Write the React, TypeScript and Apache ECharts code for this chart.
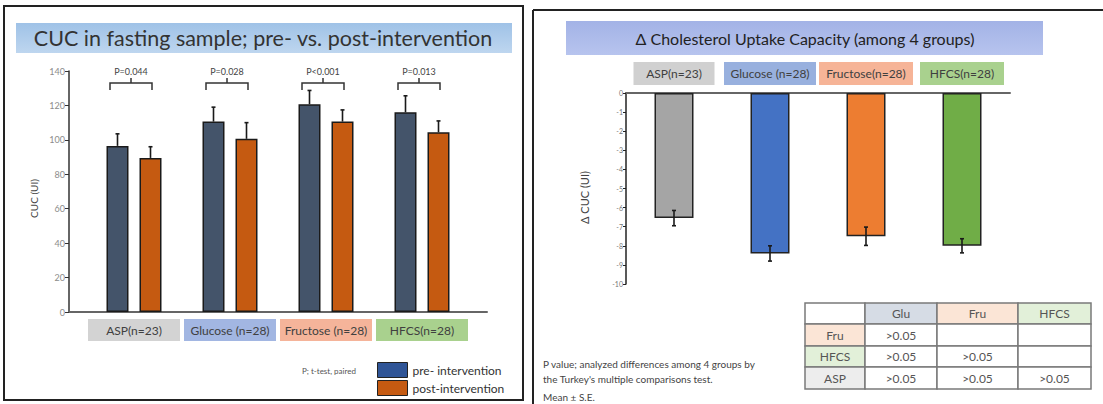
import React, { useEffect, useRef } from "react";
import * as echarts from "echarts";

// ---------- data: left chart ----------
const groups = ["ASP(n=23)", "Glucose (n=28)", "Fructose (n=28)", "HFCS(n=28)"];
const preValues = [96.5, 110.6, 120.7, 116.0];
const preErrors = [7.0, 8.4, 8.0, 9.6];
const postValues = [89.5, 100.6, 110.6, 104.4];
const postErrors = [6.5, 9.4, 6.8, 6.6];
const pLabels = ["P=0.044", "P=0.028", "P<0.001", "P=0.013"];
const bracketLevel = 133;
const seriesNames = ["pre- intervention", "post-intervention"];

// ---------- data: right chart ----------
const deltaGroups = ["ASP(n=23)", "Glucose (n=28)", "Fructose(n=28)", "HFCS(n=28)"];
const deltaValues = [-6.55, -8.4, -7.5, -8.0];
const deltaErrors = [0.4, 0.4, 0.48, 0.37];

// ---------- data: comparison table ----------
const tableHeader = ["", "Glu", "Fru", "HFCS"];
const tableRowNames = ["Fru", "HFCS", "ASP"];
const tableCells = [
  [">0.05", "", ""],
  [">0.05", ">0.05", ""],
  [">0.05", ">0.05", ">0.05"],
];

// ---------- styles ----------
const FONT = "Lato, 'Noto Sans', sans-serif";
const leftBoxColors = ["#d3d3d3", "#a2b6e2", "#f5b49a", "#a9d18e"];
const rightBoxColors = ["#d0d0d0", "#98b0de", "#f6b497", "#a9d18e"];
const rightBoxWidths = [81, 92, 94, 84];
const deltaColors = ["#a5a5a5", "#4472c4", "#ed7d31", "#70ad47"];
const legendColors = ["#2f5597", "#c55a11"];
const headerColors: Record<string, string> = {
  Glu: "#d6dce5",
  Fru: "#fbe5d6",
  HFCS: "#e2f0d9",
  ASP: "#ededed",
};
const colX = [805, 865, 937, 1018, 1091];
const rowY = [303, 324, 346, 367, 389];

function buildTable() {
  const els: any[] = [];
  for (let c = 0; c < 4; c++) {
    const name = tableHeader[c];
    els.push({
      type: "rect",
      shape: { x: colX[c], y: rowY[0], width: colX[c + 1] - colX[c], height: rowY[1] - rowY[0] },
      style: { fill: headerColors[name] || "#ffffff", stroke: "#7a7a7a", lineWidth: 1.5 },
    });
    if (name)
      els.push({
        type: "text",
        style: {
          text: name,
          x: (colX[c] + colX[c + 1]) / 2,
          y: (rowY[0] + rowY[1]) / 2,
          align: "center",
          verticalAlign: "middle",
          fontSize: 12,
          fill: "#555",
          fontFamily: FONT,
        },
      });
  }
  for (let r = 0; r < 3; r++) {
    const y0 = rowY[r + 1];
    const y1 = rowY[r + 2];
    for (let c = 0; c < 4; c++) {
      const txt = c === 0 ? tableRowNames[r] : tableCells[r][c - 1];
      els.push({
        type: "rect",
        shape: { x: colX[c], y: y0, width: colX[c + 1] - colX[c], height: y1 - y0 },
        style: {
          fill: c === 0 ? headerColors[tableRowNames[r]] : "#ffffff",
          stroke: "#7a7a7a",
          lineWidth: 1.5,
        },
      });
      if (txt)
        els.push({
          type: "text",
          style: {
            text: txt,
            x: (colX[c] + colX[c + 1]) / 2,
            y: (y0 + y1) / 2,
            align: "center",
            verticalAlign: "middle",
            fontSize: 12,
            fill: "#555",
            fontFamily: FONT,
          },
        });
    }
  }
  return els;
}

function errorSeries(values: number[], errors: number[], axisIndex: number, offset: number, twoSided: boolean) {
  return {
    type: "custom",
    xAxisIndex: axisIndex,
    yAxisIndex: axisIndex,
    z: 5,
    silent: true,
    data: values.map((v, i) => [i, twoSided ? v - errors[i] : v, v + errors[i]]),
    renderItem: (params: any, api: any) => {
      const p0 = api.coord([api.value(0), api.value(1)]);
      const p1 = api.coord([api.value(0), api.value(2)]);
      const x = p0[0] + offset;
      const st = { stroke: "#1a1a1a", lineWidth: 1.6 };
      const children: any[] = [
        { type: "line", shape: { x1: x, y1: p0[1], x2: x, y2: p1[1] }, style: st },
        { type: "line", shape: { x1: x - 2, y1: p1[1], x2: x + 2, y2: p1[1] }, style: st },
      ];
      if (twoSided)
        children.push({ type: "line", shape: { x1: x - 2, y1: p0[1], x2: x + 2, y2: p0[1] }, style: st });
      return { type: "group", children };
    },
  };
}

function legendFor(i: number, top: number) {
  return {
    orient: "vertical",
    left: 377,
    top,
    padding: 0,
    itemWidth: 30,
    itemHeight: 15,
    itemGap: 5,
    itemStyle: { borderColor: "#222", borderWidth: 1 },
    selectedMode: false,
    textStyle: { fontSize: 12, color: "#333", fontFamily: FONT },
    data: [{ name: seriesNames[i], icon: "rect", itemStyle: { color: legendColors[i] } }],
  };
}

export default function App() {
  const ref = useRef<HTMLDivElement>(null);
  useEffect(() => {
    document.body.style.margin = "0";
    if (!ref.current) return;
    const chart = echarts.init(ref.current, undefined, { renderer: "svg" });

    const leftRich: any = {};
    groups.forEach((g, i) => {
      leftRich["c" + i] = {
        backgroundColor: leftBoxColors[i],
        width: 92,
        height: 22,
        lineHeight: 22,
        align: "center",
        fontSize: 12,
        color: "#404040",
        fontFamily: FONT,
      };
    });
    const rightRich: any = {};
    deltaGroups.forEach((g, i) => {
      rightRich["c" + i] = {
        backgroundColor: rightBoxColors[i],
        width: rightBoxWidths[i],
        height: 23,
        lineHeight: 23,
        align: "center",
        fontSize: 12,
        color: "#404040",
        fontFamily: FONT,
      };
    });

    const option: any = {
      animation: false,
      textStyle: { fontFamily: FONT },
      grid: [
        { left: 69, top: 71, width: 418, height: 241 },
        { left: 86, top: 71, width: 384, height: 241 },
        { left: 626, top: 93, width: 384, height: 191 },
      ],
      xAxis: [
        {
          gridIndex: 0,
          type: "value",
          min: 0,
          max: 1,
          axisLine: { show: true, onZero: false, lineStyle: { color: "#666", width: 2 } },
          axisTick: { show: false },
          axisLabel: { show: false },
          splitLine: { show: false },
        },
        {
          gridIndex: 1,
          type: "category",
          data: groups,
          axisLine: { show: false },
          axisTick: { show: false },
          axisLabel: {
            interval: 0,
            margin: 7,
            formatter: (v: string, i: number) => `{c${i}|${v}}`,
            rich: leftRich,
          },
        },
        {
          gridIndex: 2,
          type: "category",
          position: "top",
          data: deltaGroups,
          axisLine: { show: true, onZero: false, lineStyle: { color: "#666", width: 2 } },
          axisTick: { show: false },
          axisLabel: {
            interval: 0,
            margin: 8,
            formatter: (v: string, i: number) => `{c${i}|${v}}`,
            rich: rightRich,
          },
        },
      ],
      yAxis: [
        {
          gridIndex: 0,
          type: "value",
          min: 0,
          max: 140,
          interval: 20,
          name: "CUC (UI)",
          nameLocation: "middle",
          nameGap: 30,
          nameTextStyle: { fontSize: 10, color: "#444", padding: [0, 14, 0, 0] },
          axisLine: { show: true, lineStyle: { color: "#333", width: 1.5 } },
          axisTick: { show: true, length: 4, lineStyle: { color: "#333" } },
          axisLabel: { fontSize: 9, color: "#8c8c8c", margin: 4 },
          splitLine: { show: false },
        },
        {
          gridIndex: 1,
          type: "value",
          min: 0,
          max: 140,
          show: false,
          splitLine: { show: false },
        },
        {
          gridIndex: 2,
          type: "value",
          min: -10,
          max: 0,
          interval: 1,
          name: "Δ CUC (UI)",
          nameLocation: "middle",
          nameGap: 36,
          nameTextStyle: { fontSize: 11, color: "#444", padding: [0, 18, 0, 0] },
          axisLine: { show: true, lineStyle: { color: "#222", width: 1.5 } },
          axisTick: { show: true, length: 3, lineStyle: { color: "#222" } },
          axisLabel: { fontSize: 7, color: "#777", margin: 3 },
          splitLine: { show: false },
        },
      ],
      legend: [legendFor(0, 362), legendFor(1, 380)],
      series: [
        {
          name: seriesNames[0],
          type: "bar",
          xAxisIndex: 1,
          yAxisIndex: 1,
          data: preValues,
          barWidth: 22,
          barGap: "50%",
          itemStyle: { color: "#44546a", borderColor: "#1a1a1a", borderWidth: 1.5 },
        },
        {
          name: seriesNames[1],
          type: "bar",
          xAxisIndex: 1,
          yAxisIndex: 1,
          data: postValues,
          barWidth: 22,
          barGap: "50%",
          itemStyle: { color: "#c55a11", borderColor: "#1a1a1a", borderWidth: 1.5 },
        },
        errorSeries(preValues, preErrors, 1, -16.5, false),
        errorSeries(postValues, postErrors, 1, 16.5, false),
        {
          type: "custom",
          xAxisIndex: 1,
          yAxisIndex: 1,
          silent: true,
          data: pLabels.map((p, i) => [i, bracketLevel]),
          renderItem: (params: any, api: any) => {
            const c = api.coord([api.value(0), api.value(1)]);
            const cx = c[0] - 3;
            const y = c[1];
            const half = 21;
            return {
              type: "group",
              children: [
                {
                  type: "polyline",
                  shape: { points: [[cx - half, y + 7], [cx - half, y], [cx + half, y], [cx + half, y + 7]] },
                  style: { stroke: "#333", lineWidth: 1.5, fill: "none" },
                },
                {
                  type: "line",
                  shape: { x1: cx, y1: y, x2: cx, y2: y - 5 },
                  style: { stroke: "#333", lineWidth: 1.5 },
                },
                {
                  type: "text",
                  style: {
                    text: pLabels[params.dataIndex],
                    x: cx,
                    y: y - 12,
                    align: "center",
                    verticalAlign: "middle",
                    fontSize: 9,
                    fill: "#444",
                    fontFamily: FONT,
                  },
                },
              ],
            };
          },
        },
        {
          type: "bar",
          xAxisIndex: 2,
          yAxisIndex: 2,
          barWidth: 39,
          data: deltaValues.map((v, i) => ({ value: v, itemStyle: { color: deltaColors[i] } })),
          itemStyle: { borderColor: "#222", borderWidth: 1.5 },
        },
        errorSeries(deltaValues, deltaErrors, 2, 0, true),
      ],
      graphic: [
        {
          type: "rect",
          shape: { x: 4, y: 6, width: 519, height: 394 },
          style: { fill: "none", stroke: "#222", lineWidth: 2 },
          silent: true,
        },
        { type: "line", shape: { x1: 533, y1: 10, x2: 533, y2: 404 }, style: { stroke: "#222", lineWidth: 2 } },
        { type: "line", shape: { x1: 533, y1: 10, x2: 1103, y2: 10 }, style: { stroke: "#222", lineWidth: 2 } },
        {
          type: "rect",
          shape: { x: 16, y: 23, width: 496, height: 30 },
          style: {
            fill: new echarts.graphic.LinearGradient(0, 0, 0, 1, [
              { offset: 0, color: "#9fc2e7" },
              { offset: 1, color: "#bed6ef" },
            ]),
          },
        },
        {
          type: "text",
          style: {
            text: "CUC in fasting sample; pre- vs. post-intervention",
            x: 263,
            y: 38,
            align: "center",
            verticalAlign: "middle",
            fontSize: 21.5,
            fill: "#333",
            fontFamily: FONT,
          },
        },
        {
          type: "rect",
          shape: { x: 566, y: 21, width: 477, height: 34 },
          style: {
            fill: new echarts.graphic.LinearGradient(0, 0, 0, 1, [
              { offset: 0, color: "#a3b3e6" },
              { offset: 1, color: "#b7c4ee" },
            ]),
          },
        },
        {
          type: "text",
          style: {
            text: "Δ Cholesterol Uptake Capacity (among 4 groups)",
            x: 805,
            y: 38,
            align: "center",
            verticalAlign: "middle",
            fontSize: 16,
            fill: "#222",
            fontFamily: FONT,
          },
        },
        {
          type: "text",
          style: {
            text: "P; t-test, paired",
            x: 302,
            y: 371,
            align: "left",
            verticalAlign: "middle",
            fontSize: 8,
            fill: "#555",
            fontFamily: FONT,
          },
        },
        {
          type: "text",
          style: {
            text: "P value; analyzed differences among 4 groups by",
            x: 543,
            y: 364,
            align: "left",
            verticalAlign: "middle",
            fontSize: 10,
            fill: "#444",
            fontFamily: FONT,
          },
        },
        {
          type: "text",
          style: {
            text: "the Turkey's multiple comparisons test.",
            x: 543,
            y: 379,
            align: "left",
            verticalAlign: "middle",
            fontSize: 10,
            fill: "#444",
            fontFamily: FONT,
          },
        },
        {
          type: "text",
          style: {
            text: "Mean ± S.E.",
            x: 543,
            y: 397,
            align: "left",
            verticalAlign: "middle",
            fontSize: 10,
            fill: "#444",
            fontFamily: FONT,
          },
        },
        ...buildTable(),
      ],
    };
    chart.setOption(option);
    return () => chart.dispose();
  }, []);
  return <div ref={ref} style={{ width: 1103, height: 404 }} />;
}
